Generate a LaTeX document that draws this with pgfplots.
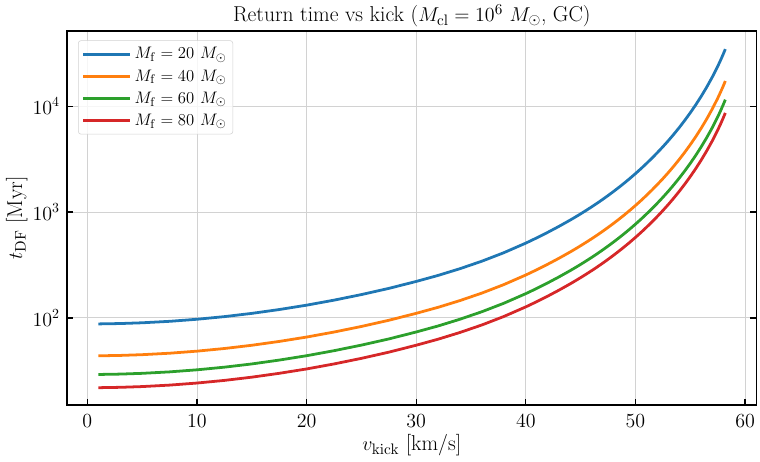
\documentclass[border=0pt]{standalone}
\usepackage{pgfplots}
\pgfplotsset{compat=1.18}
\usepackage{pgfplotstable}

\definecolor{tabblue}{HTML}{1F77B4}
\definecolor{taborange}{HTML}{FF7F0E}
\definecolor{tabgreen}{HTML}{2CA02C}
\definecolor{tabred}{HTML}{D62728}

% Dynamical-friction return time t_DF [Myr] against kick velocity [km/s]
% for four final BH masses (cluster mass 1e6 Msun, GC)
\pgfplotstableread{
v     f20      f40      f60      f80
1     87.90    43.95    29.30    21.98
3     88.63    44.32    29.54    22.16
5     90.09    45.05    30.03    22.52
7.5   93.00    46.50    31.00    23.25
10    97.27    48.64    32.42    24.32
12.5  103.01   51.51    34.34    25.75
15    110.53   55.27    36.84    27.63
17.5  120.14   60.07    40.05    30.04
20    132.13   66.07    44.04    33.03
22.5  147.35   73.68    49.12    36.84
25    166.34   83.17    55.45    41.59
27.5  190.28   95.14    63.43    47.57
30    221.3    110.65   73.77    55.33
32    252.3    126.15   84.10    63.08
34    292.2    146.10   97.40    73.05
36    344.0    172.00   114.67   86.00
38    413.5    206.75   137.83   103.38
40    509.3    254.65   169.77   127.33
41    570.7    285.35   190.23   142.68
42    643.6    321.80   214.53   160.90
43    730.3    365.15   243.43   182.58
44    834.5    417.25   278.17   208.63
44.5  894.9    447.45   298.30   223.73
45    961.6    480.80   320.53   240.40
45.5  1035.9   517.95   345.30   258.98
46    1118.2   559.10   372.73   279.55
46.5  1210.3   605.15   403.43   302.58
47    1314.0   657.00   438.00   328.50
47.5  1431.1   715.55   477.03   357.78
48    1563.1   781.55   521.03   390.78
48.5  1713.0   856.50   571.00   428.25
49    1883.6   941.80   627.87   470.90
49.5  2079.4   1039.70  693.13   519.85
50    2304.4   1152.20  768.13   576.10
50.5  2564.5   1282.25  854.83   641.13
51    2868.4   1434.20  956.13   717.10
51.5  3222.8   1611.40  1074.27  805.70
52    3637.7   1818.85  1212.57  909.43
52.5  4129.6   2064.80  1376.53  1032.40
53    4715.3   2357.65  1571.77  1178.83
53.5  5423.1   2711.55  1807.70  1355.78
54    6280.6   3140.30  2093.53  1570.15
54.5  7335.5   3667.75  2445.17  1833.88
55    8640.7   4320.35  2880.23  2160.18
55.5  10280    5140.0   3426.67  2570.00
56    12375    6187.5   4125.00  3093.75
56.5  15098    7549.0   5032.67  3774.50
57    18707    9353.5   6235.67  4676.75
57.5  23659    11829.5  7886.33  5914.75
57.75 26875    13437.5  8958.33  6718.75
58    30761    15380.5  10253.67 7690.25
58.1  32554    16277.0  10851.33 8138.50
58.2  34514    17257.0  11504.67 8628.50
}\tdf

\begin{document}
\begin{tikzpicture}
% fixed page frame around the axis box (axis box corner at the origin)
\useasboundingbox (-48.24pt,-41.04pt) rectangle (499.0pt,291.6pt);
\begin{axis}[
  at={(0pt,0pt)}, anchor=south west,
  scale only axis,
  width=496.6pt, height=269.3pt,
  ymode=log, log basis y=10,
  xmin=-1.86, xmax=61.06,
  ymin=15.1, ymax=51200,
  xtick={0,10,20,30,40,50,60},
  ytick={100,1000,10000},
  xtick pos=left,
  tick align=inside,
  major tick length=4.5pt,
  minor tick length=2.5pt,
  every tick/.style={black, line width=0.8pt},
  axis line style={line width=1pt},
  grid=major,
  major grid style={gray!35, line width=0.7pt},
  tick label style={font=\fontsize{14.5}{17}\selectfont},
  xticklabel style={yshift=-3.2pt},
  yticklabel style={xshift=-1.6pt},
  label style={font=\fontsize{15.5}{18}\selectfont},
  every axis title shift=0pt,
  title style={font=\fontsize{15.5}{18}\selectfont,
    at={(axis description cs:0.5,1.024)}, anchor=base},
  title={Return time vs kick ($M_\mathrm{cl} = 10^6\ M_\odot$, GC)},
  xlabel={$v_\mathrm{kick}$ [km/s]},
  ylabel={$t_\mathrm{DF}$ [Myr]},
  xlabel style={at={(axis description cs:0.5,-0.123)}, anchor=base},
  ylabel style={at={(axis description cs:-0.0652,0.5)}, anchor=base},
  legend cell align=left,
  legend style={
    at={(0.016,0.975)}, anchor=north west,
    font=\fontsize{13}{15}\selectfont,
    draw=gray!35, rounded corners=2pt,
    fill=white, fill opacity=0.8, text opacity=1,
    row sep=2.2pt, inner xsep=2.5pt, inner ysep=3pt,
  },
  legend image code/.code={
    \draw[#1] (0pt,0pt) -- (29pt,0pt);
    \path (0pt,0pt) -- (34pt,0pt);
  },
  every axis plot/.append style={line width=2pt},
]
\addplot[tabblue]   table[x=v, y=f20] {\tdf};
\addlegendentry{$M_\mathrm{f} = 20\ M_\odot$}
\addplot[taborange] table[x=v, y=f40] {\tdf};
\addlegendentry{$M_\mathrm{f} = 40\ M_\odot$}
\addplot[tabgreen]  table[x=v, y=f60] {\tdf};
\addlegendentry{$M_\mathrm{f} = 60\ M_\odot$}
\addplot[tabred]    table[x=v, y=f80] {\tdf};
\addlegendentry{$M_\mathrm{f} = 80\ M_\odot$}
\end{axis}
\end{tikzpicture}
\end{document}
